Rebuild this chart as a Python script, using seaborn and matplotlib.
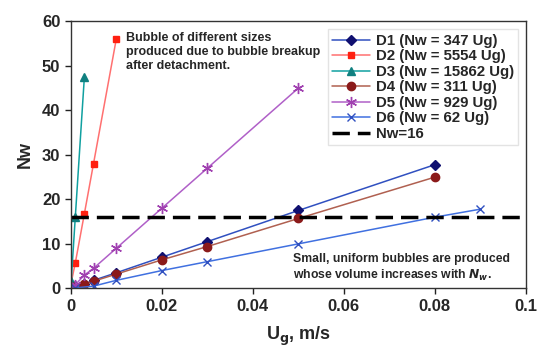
import matplotlib
matplotlib.use("Agg")
import matplotlib.pyplot as plt
import seaborn as sns
import pandas as pd

sns.set_theme(style="white")
plt.rcParams['font.family'] = ['Liberation Sans', 'DejaVu Sans']
plt.rcParams['font.weight'] = 'bold'

d1_x = [0, 0.001, 0.003, 0.005, 0.01, 0.02, 0.03, 0.05, 0.08]
d1_y = [0.3, 0.5, 1.0, 1.8, 3.5, 7.0, 10.5, 17.5, 27.8]
d2_x = [0, 0.001, 0.003, 0.005, 0.01]
d2_y = [0.8, 5.7, 16.8, 28.0, 56.0]
d3_x = [0.0001, 0.001, 0.003]
d3_y = [1.6, 16.0, 47.6]
d4_x = [0.0005, 0.001, 0.003, 0.005, 0.01, 0.02, 0.03, 0.05, 0.08]
d4_y = [0.2, 0.4, 1.0, 1.6, 3.2, 6.4, 9.4, 15.7, 25.0]
d5_x = [0, 0.001, 0.003, 0.005, 0.01, 0.02, 0.03, 0.05]
d5_y = [0.2, 0.8, 3.0, 4.5, 9.0, 18.0, 27.0, 45.0]
d6_x = [0.001, 0.005, 0.01, 0.02, 0.03, 0.05, 0.08, 0.09]
d6_y = [0.1, 0.5, 1.8, 4.0, 6.0, 10.0, 16.0, 17.8]
nw_line = 16
labels = ["D1 (Nw = 347 Ug)", "D2 (Nw = 5554 Ug)", "D3 (Nw = 15862 Ug)",
          "D4 (Nw = 311 Ug)", "D5 (Nw = 929 Ug)", "D6 (Nw = 62 Ug)", "Nw=16"]

series = [
    (d1_x, d1_y, "D", "#3050c0", "#101070", "#101070", 5),
    (d2_x, d2_y, "s", "#ff7070", "#ff2010", "#ff2010", 5),
    (d3_x, d3_y, "^", "#10a0a0", "#108080", "#108080", 6),
    (d4_x, d4_y, "o", "#b06050", "#8b1a1a", "#8b1a1a", 6),
    (d5_x, d5_y, (6, 2, 0), "#b060c8", "#a040b0", "#a040b0", 8),
    (d6_x, d6_y, "x", "#4070e0", "#3050c0", "#3050c0", 6),
]

fig, ax = plt.subplots(figsize=(5.4, 3.56), dpi=100)
fig.subplots_adjust(left=0.131, right=0.974, top=0.94, bottom=0.19)

for (xs, ys, mk, lc, mfc, mec, ms), lab in zip(series, labels):
    df = pd.DataFrame({"x": xs, "y": ys})
    sns.lineplot(data=df, x="x", y="y", ax=ax, sort=False, color=lc, lw=1.1,
                 marker=mk, markersize=ms, markerfacecolor=mfc,
                 markeredgecolor=mec, markeredgewidth=1.0, label=lab)

ax.axhline(nw_line, color="black", lw=2.5, dashes=(5, 2.3), label=labels[6])

ax.set_xlim(0, 0.1)
ax.set_ylim(0, 60)
ax.set_xticks([0, 0.02, 0.04, 0.06, 0.08, 0.1])
ax.set_xticklabels(["0", "0.02", "0.04", "0.06", "0.08", "0.1"])
ax.set_yticks(range(0, 61, 10))
ax.tick_params(axis="both", which="major", labelsize=12, direction="out",
               length=4, width=1, color="#222222", bottom=True, left=True)
for lbl in ax.get_xticklabels() + ax.get_yticklabels():
    lbl.set_fontweight("bold")
for s in ax.spines.values():
    s.set_color("#333333")
    s.set_linewidth(1.0)

ax.set_xlabel("U$_\\mathbf{g}$, m/s", fontsize=13, fontweight="bold", labelpad=8)
ax.set_ylabel("Nw", fontsize=13, fontweight="bold", labelpad=6)

leg = ax.legend(loc="upper right", fontsize=10.8, frameon=True, fancybox=False,
                edgecolor="#dddddd", borderpad=0.3, labelspacing=0.1,
                handlelength=2.5, handletextpad=0.4, borderaxespad=0.3,
                bbox_to_anchor=(0.993, 0.987))
for t in leg.get_texts():
    t.set_fontweight("bold")

ax.text(0.0121, 57.5, "Bubble of different sizes\nproduced due to bubble breakup\nafter detachment.",
        fontsize=9, fontweight="bold", va="top", ha="left", linespacing=1.2)
ax.text(0.0488, 8.0, "Small, uniform bubbles are produced\nwhose volume increases with $\\mathit{N_w}$.",
        fontsize=8.8, fontweight="bold", va="top", ha="left", linespacing=1.3)

fig.savefig("out.png", dpi=100)
